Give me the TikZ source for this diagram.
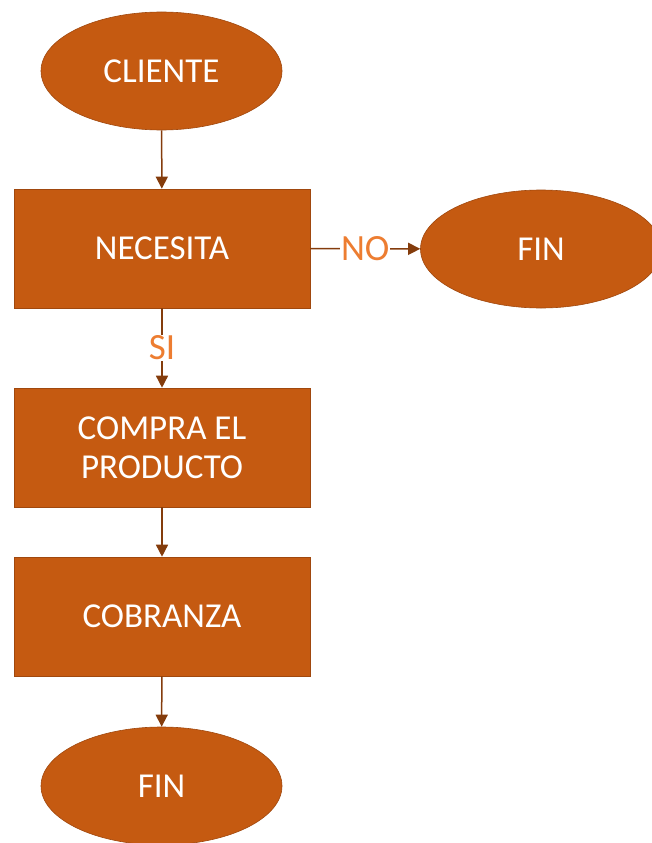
\documentclass[tikz,border=0pt]{standalone}
\usepackage{fontspec}
\setmainfont{Carlito}
\usetikzlibrary{shapes.geometric,arrows.meta}
\definecolor{boxfill}{HTML}{C55A11}
\definecolor{boxline}{HTML}{A0480E}
\definecolor{arrowc}{HTML}{843C0C}
\definecolor{labelc}{HTML}{ED7D31}
\tikzset{
  term/.style={ellipse, fill=boxfill, draw=boxline, line width=0.6pt, minimum width=241pt, minimum height=118pt, inner sep=0pt, text=white, font=\fontsize{35}{39}\selectfont},
  proc/.style={rectangle, fill=boxfill, draw=boxline, line width=0.6pt, minimum width=296pt, minimum height=119pt, inner sep=0pt, text=white, align=center, font=\fontsize{35}{39}\selectfont},
  flow/.style={draw=arrowc, line width=1.5pt, -{Triangle[length=12pt,width=12pt]}},
  lbl/.style={fill=white, text=labelc, inner sep=1pt, font=\fontsize{37}{40}\selectfont}
}
\begin{document}
\begin{tikzpicture}[x=1pt,y=-1pt]
\useasboundingbox (0,0) rectangle (652,843);
\node[term] (cliente) at (161.5,71) {CLIENTE};
\node[proc] (necesita) at (162,248.5) {NECESITA};
\node[term] (fin1) at (541,249) {FIN};
\node[proc] (compra) at (162,447.5) {COMPRA EL\\PRODUCTO};
\node[proc] (cobranza) at (162,616.5) {COBRANZA};
\node[term] (fin2) at (161.5,786) {FIN};
\draw[flow] (cliente) -- (necesita);
\draw[flow] (necesita) -- node[lbl] {NO} (fin1);
\draw[flow] (necesita) -- node[lbl] {SI} (compra);
\draw[flow] (compra) -- (cobranza);
\draw[flow] (cobranza) -- (fin2);
\end{tikzpicture}
\end{document}
